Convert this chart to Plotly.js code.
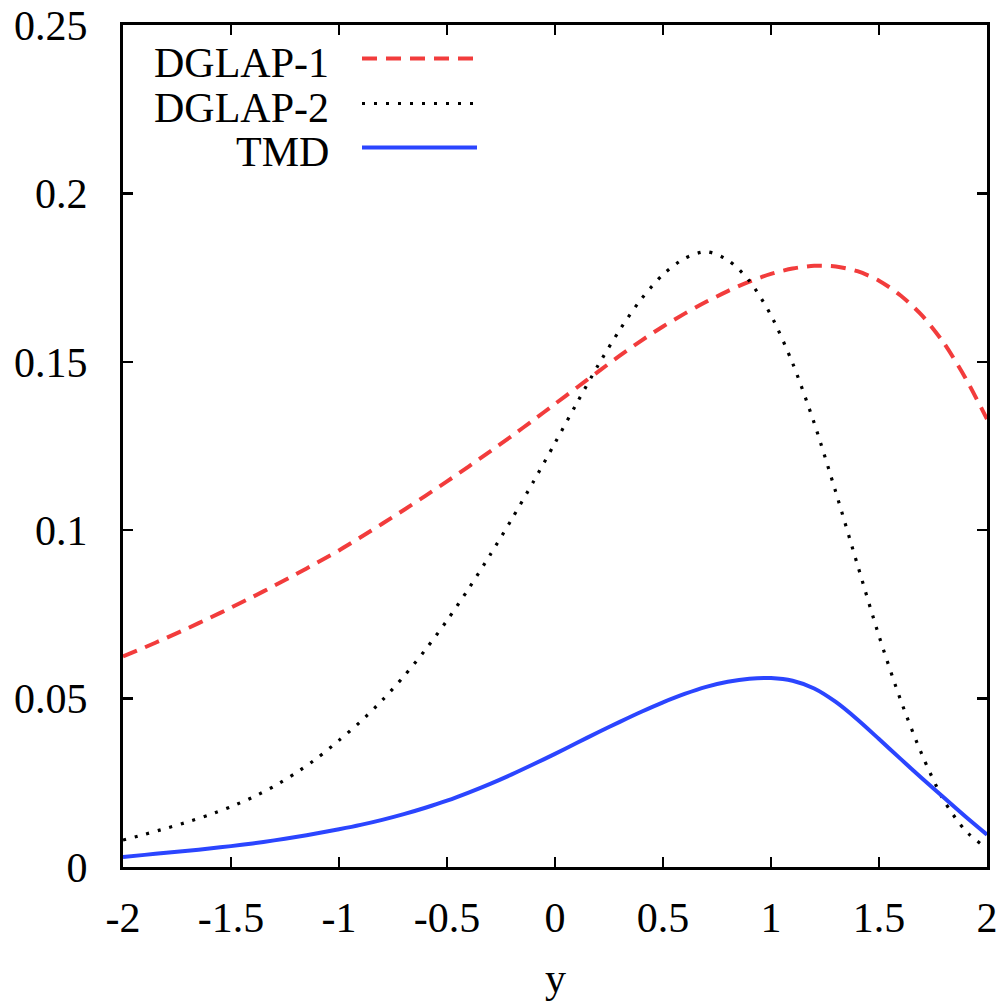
<!DOCTYPE html>
<html>
<head>
<meta charset="utf-8">
<script src="https://cdn.plot.ly/plotly-3.0.1.min.js"></script>
<style>
  html, body { margin: 0; padding: 0; background: #ffffff; }
  #chart { width: 1006px; height: 1004px; }
</style>
</head>
<body>
<div id="chart"></div>
<script>
// ---- data ----
const yValues = [-2.0,-1.9,-1.8,-1.7,-1.6,-1.5,-1.4,-1.3,-1.2,-1.1,-1.0,-0.9,-0.8,-0.7,-0.6,-0.5,-0.4,-0.3,-0.2,-0.1,0.0,0.1,0.2,0.3,0.4,0.5,0.6,0.7,0.8,0.9,1.0,1.1,1.2,1.3,1.4,1.5,1.6,1.7,1.8,1.9,2.0];

const dglap1 = [0.0625,0.0652,0.0680,0.0709,0.0739,0.0770,0.0802,0.0835,0.0869,0.0904,0.0940,0.0979,0.1019,0.1060,0.1102,0.1145,0.1189,0.1234,0.1280,0.1327,0.1375,0.1423,0.1471,0.1518,0.1563,0.1605,0.1643,0.1678,0.1710,0.1738,0.1761,0.1777,0.1785,0.1783,0.1769,0.1741,0.1697,0.1637,0.1556,0.1452,0.1330];

const dglap2 = [0.0080,0.0097,0.0115,0.0134,0.0155,0.0179,0.0207,0.0240,0.0279,0.0324,0.0376,0.0432,0.0495,0.0566,0.0645,0.0732,0.0826,0.0927,0.1033,0.1144,0.1259,0.1376,0.1490,0.1595,0.1687,0.1759,0.1807,0.1827,0.1802,0.1740,0.1638,0.1496,0.1318,0.1113,0.0898,0.0686,0.0496,0.0332,0.0198,0.0108,0.0055];

const tmd = [0.0030,0.0036,0.0042,0.0048,0.0055,0.0062,0.0070,0.0079,0.0089,0.0100,0.0112,0.0125,0.0140,0.0157,0.0176,0.0197,0.0221,0.0247,0.0275,0.0305,0.0336,0.0368,0.0400,0.0431,0.0461,0.0489,0.0514,0.0535,0.0550,0.0559,0.0561,0.0553,0.0530,0.0490,0.0438,0.0380,0.0321,0.0263,0.0206,0.0150,0.0096];

const seriesNames = ['DGLAP-1', 'DGLAP-2', 'TMD'];
const xTickVals = [-2, -1.5, -1, -0.5, 0, 0.5, 1, 1.5, 2];
const xTickText = ['-2', '-1.5', '-1', '-0.5', '0', '0.5', '1', '1.5', '2'];
const yTickVals = [0, 0.05, 0.1, 0.15, 0.2, 0.25];
const yTickText = ['0', '0.05', '0.1', '0.15', '0.2', '0.25'];
const xTitle = 'y';

// ---- styling ----
const FONT = 'Liberation Serif';
const RED = '#f23c3c';
const BLACK = '#000000';
const BLUE = '#2b45ff';
const lineStyles = [
  {color: RED, width: 4, dash: '15px,9px'},
  {color: BLACK, width: 3.2, dash: '3px,9px'},
  {color: BLUE, width: 4, dash: 'solid'}
];
const seriesData = [dglap1, dglap2, tmd];

const traces = seriesData.map((vals, i) => ({
  type: 'scatter',
  mode: 'lines',
  name: seriesNames[i],
  x: yValues,
  y: vals,
  line: Object.assign({shape: 'spline', smoothing: 0.8}, lineStyles[i]),
  hoverinfo: 'skip'
}));

const L = 123, R = 987, T = 25, B = 867;
const px = v => (v - L) / (R - L);
const py = v => (B - v) / (B - T);
const legendRowsY = [60, 105, 149];
const annotations = seriesNames.map((n, i) => ({
  xref: 'paper', yref: 'paper',
  x: px(331), y: py(legendRowsY[i] + 3),
  xanchor: 'right', yanchor: 'middle',
  text: n, showarrow: false,
  font: {family: FONT, size: 42, color: '#000'}
}));
// x-axis title placed like the reference
annotations.push({
  xref: 'paper', yref: 'paper',
  x: 0.5, y: py(978),
  xanchor: 'center', yanchor: 'middle',
  text: xTitle, showarrow: false,
  font: {family: FONT, size: 42, color: '#000'}
});
const shapes = lineStyles.map((st, i) => ({
  type: 'line', xref: 'paper', yref: 'paper',
  x0: px(362), x1: px(477),
  y0: py(legendRowsY[i] - 1.5), y1: py(legendRowsY[i] - 1.5),
  line: {color: st.color, width: st.width, dash: st.dash}
}));

const axisCommon = {
  showgrid: false,
  zeroline: false,
  showline: true,
  linecolor: '#000',
  linewidth: 3,
  mirror: 'allticks',
  ticks: 'inside',
  ticklen: 10,
  tickwidth: 2.5,
  tickcolor: '#000',
  tickfont: {family: FONT, size: 42, color: '#000'},
  fixedrange: true
};

const layout = {
  width: 1006,
  height: 1004,
  paper_bgcolor: '#ffffff',
  plot_bgcolor: '#ffffff',
  showlegend: false,
  margin: {l: L, r: 1006 - R, t: T, b: 1004 - B, pad: 0},
  font: {family: FONT, color: '#000'},
  xaxis: Object.assign({}, axisCommon, {
    range: [-2, 2],
    tickmode: 'array',
    tickvals: xTickVals,
    ticktext: xTickText,
    ticklabelstandoff: 12
  }),
  yaxis: Object.assign({}, axisCommon, {
    range: [0, 0.25],
    tickmode: 'array',
    tickvals: yTickVals,
    ticktext: yTickText,
    ticklabelstandoff: 24
  }),
  annotations: annotations,
  shapes: shapes
};

Plotly.newPlot('chart', traces, layout, {staticPlot: true, displayModeBar: false});
</script>
</body>
</html>
